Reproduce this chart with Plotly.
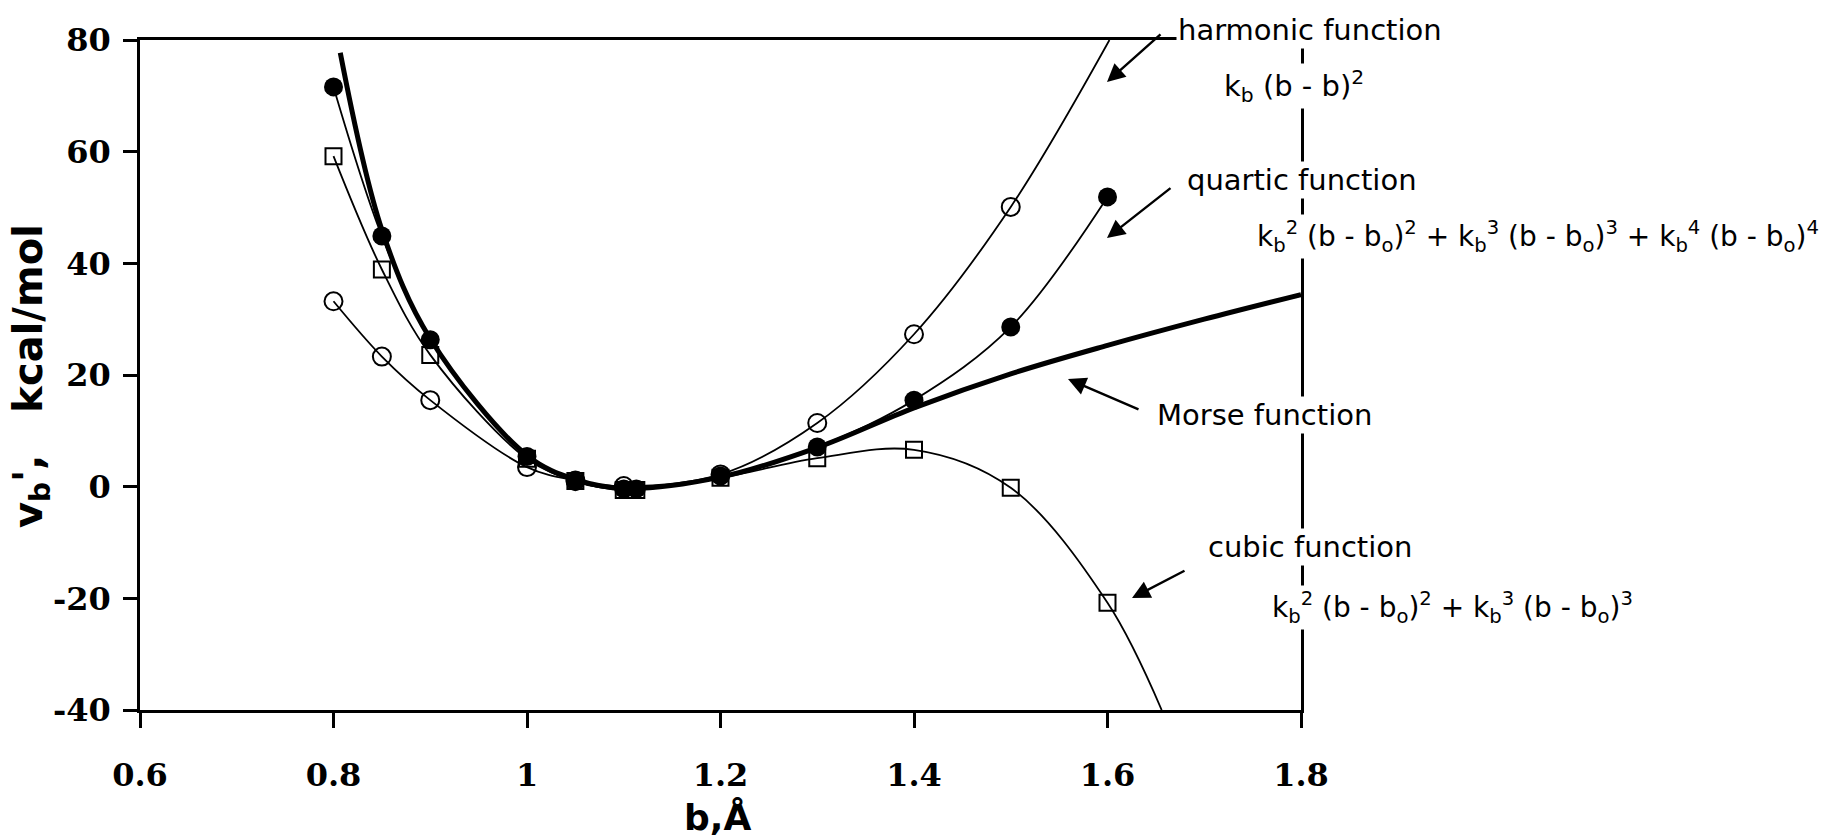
import plotly.graph_objects as go

# ---------------- data ----------------
# harmonic function (open circles)
harm_b = [0.8, 0.85, 0.9, 1.0, 1.05, 1.1, 1.2, 1.3, 1.4, 1.5]
harm_v = [33.2, 23.3, 15.5, 3.5, 1.1, 0.1, 2.2, 11.4, 27.3, 50.1]
harm_curve_b = [0.8, 0.85, 0.9, 1.0, 1.05, 1.1, 1.2, 1.3, 1.4, 1.5, 1.602]
harm_curve_v = [33.2, 23.3, 15.5, 3.5, 1.1, 0.1, 2.2, 11.4, 27.3, 50.1, 80.0]

# quartic function (filled circles)
quar_b = [0.8, 0.85, 0.9, 1.0, 1.05, 1.1, 1.113, 1.2, 1.3, 1.4, 1.5, 1.6]
quar_v = [71.6, 44.9, 26.3, 5.4, 0.9, -0.4, -0.4, 1.9, 7.1, 15.5, 28.6, 51.9]
quar_curve_b = [0.8, 0.85, 0.9, 1.0, 1.05, 1.1, 1.2, 1.3, 1.4, 1.5, 1.6]
quar_curve_v = [71.6, 44.9, 26.3, 5.4, 0.9, -0.4, 1.9, 7.1, 15.5, 28.6, 51.9]

# cubic function (open squares)
cub_b = [0.8, 0.85, 0.9, 1.0, 1.05, 1.1, 1.113, 1.2, 1.3, 1.4, 1.5, 1.6]
cub_v = [59.2, 38.9, 23.6, 5.0, 1.0, -0.6, -0.6, 1.6, 5.1, 6.6, -0.2, -20.8]
cub_curve_b = [0.8, 0.85, 0.9, 1.0, 1.05, 1.1, 1.2, 1.3, 1.4, 1.5, 1.6, 1.656]
cub_curve_v = [59.2, 38.9, 23.6, 5.0, 1.0, -0.6, 1.6, 5.1, 6.6, -0.2, -20.8, -40.0]

# Morse function (thick line)
morse_b = [0.807, 0.85, 0.9, 1.0, 1.05, 1.1, 1.2, 1.3, 1.4, 1.5, 1.6, 1.7, 1.8]
morse_v = [77.7, 46.0, 26.5, 5.6, 1.3, -0.3, 1.7, 7.0, 14.1, 20.2, 25.3, 30.0, 34.4]

x_ticks = [0.6, 0.8, 1.0, 1.2, 1.4, 1.6, 1.8]
x_tick_text = ["0.6", "0.8", "1", "1.2", "1.4", "1.6", "1.8"]
y_ticks = [-40, -20, 0, 20, 40, 60, 80]
y_tick_text = ["-40", "-20", "0", "20", "40", "60", "80"]

# ---------------- layout geometry (pixels) ----------------
W, H = 1825, 838
L, R, T, B = 140, 1301, 40, 710


def px(X):
    return (X - L) / (R - L)


def py(Y):
    return (B - Y) / (B - T)


fig = go.Figure()
thin = dict(color="black", width=1.8)

fig.add_trace(go.Scatter(x=harm_curve_b, y=harm_curve_v, mode="lines",
                         line=dict(shape="spline", **thin), hoverinfo="skip"))
fig.add_trace(go.Scatter(x=quar_curve_b, y=quar_curve_v, mode="lines",
                         line=dict(shape="spline", **thin), hoverinfo="skip"))
fig.add_trace(go.Scatter(x=cub_curve_b, y=cub_curve_v, mode="lines",
                         line=dict(shape="spline", **thin), hoverinfo="skip"))
fig.add_trace(go.Scatter(x=morse_b, y=morse_v, mode="lines",
                         line=dict(shape="spline", color="black", width=5)))
fig.add_trace(go.Scatter(x=cub_b, y=cub_v, mode="markers",
                         marker=dict(symbol="square-open", size=16, color="black",
                                     line=dict(width=2, color="black"))))
fig.add_trace(go.Scatter(x=harm_b, y=harm_v, mode="markers",
                         marker=dict(symbol="circle-open", size=18, color="black",
                                     line=dict(width=2, color="black"))))
fig.add_trace(go.Scatter(x=quar_b, y=quar_v, mode="markers",
                         marker=dict(symbol="circle", size=19, color="black")))

sans = "DejaVu Sans"
annotations = []


def label(text, X, Y, size=29):
    annotations.append(dict(text=text, x=px(X), y=py(Y), xref="paper", yref="paper",
                            xanchor="left", yanchor="middle", showarrow=False,
                            font=dict(family=sans, size=size, color="black"),
                            bgcolor="white", borderpad=1))


def arrow(hx, hy, tx, ty):
    annotations.append(dict(text="", x=px(hx), y=py(hy), xref="paper", yref="paper",
                            ax=tx - hx, ay=ty - hy, showarrow=True, arrowhead=2,
                            arrowsize=1.5, arrowwidth=2.4, arrowcolor="black"))


label("harmonic function", 1176, 30)
label("k<sub>b</sub> (b - b)<sup>2</sup>", 1222, 86)
label("quartic function", 1185, 180)
label("k<sub>b</sub><sup>2</sup> (b - b<sub>o</sub>)<sup>2</sup> + k<sub>b</sub><sup>3</sup> (b - b<sub>o</sub>)<sup>3</sup>"
      " + k<sub>b</sub><sup>4</sup> (b - b<sub>o</sub>)<sup>4</sup>", 1255, 236, size=28)
label("Morse function", 1155, 415)
label("cubic function", 1206, 547)
label("k<sub>b</sub><sup>2</sup> (b - b<sub>o</sub>)<sup>2</sup> + k<sub>b</sub><sup>3</sup> (b - b<sub>o</sub>)<sup>3</sup>",
      1270, 607, size=28)

arrow(1107, 82, 1162, 33)
arrow(1107, 238, 1172, 187)
arrow(1068, 379, 1140, 410)
arrow(1132, 598, 1186, 570)

# axis titles
annotations.append(dict(text="b,Å", x=px(717), y=py(817), xref="paper", yref="paper",
                        xanchor="center", yanchor="middle", showarrow=False,
                        font=dict(family=sans, size=36, color="black", weight="bold")))
annotations.append(dict(text="v<sub>b</sub>',\u00a0\u00a0\u00a0kcal/mol", x=px(31), y=py(376),
                        xref="paper", yref="paper", xanchor="center", yanchor="middle",
                        textangle=-90, showarrow=False,
                        font=dict(family=sans, size=40, color="black", weight="bold")))

tick_font = dict(family="DejaVu Serif", size=32, color="black", weight="bold")
axis_common = dict(showgrid=False, zeroline=False, showline=True, linecolor="black",
                   linewidth=2.5, mirror=True, ticks="outside", tickcolor="black",
                   tickwidth=2.5, tickfont=tick_font)

fig.update_layout(
    width=W, height=H,
    margin=dict(l=L, r=W - R, t=T, b=H - B),
    paper_bgcolor="white", plot_bgcolor="white",
    showlegend=False,
    xaxis=dict(range=[0.6, 1.8], tickvals=x_ticks, ticktext=x_tick_text,
               ticklen=15, ticklabelstandoff=20, **axis_common),
    yaxis=dict(range=[-40, 80], tickvals=y_ticks, ticktext=y_tick_text,
               ticklen=14, ticklabelstandoff=6, **axis_common),
    annotations=annotations,
)

fig.write_html("out.html")
